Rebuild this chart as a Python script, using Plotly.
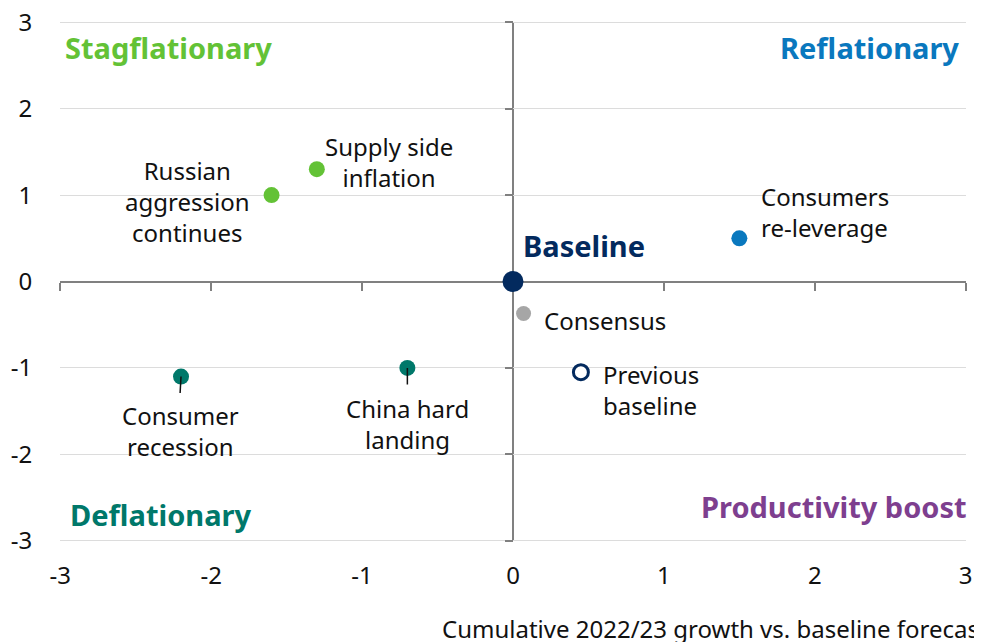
import plotly.graph_objects as go

# ---- data ----
scenarios = ["Russian<br>aggression<br>continues", "Supply side<br>inflation", "Consumers<br>re-leverage",
             "Consensus", "Previous<br>baseline", "Consumer<br>recession", "China hard<br>landing"]
growth = [-1.6, -1.3, 1.5, 0.07, 0.45, -2.2, -0.7]
inflation = [1.0, 1.3, 0.5, -0.37, -1.05, -1.1, -1.0]
baseline_x = [0]
baseline_y = [0]
tick_vals = [-3, -2, -1, 0, 1, 2, 3]
tick_text = ["-3", "-2", "-1", "0", "1", "2", "3"]
quadrants = ["Stagflationary", "Reflationary", "Deflationary", "Productivity boost"]
x_title = "Cumulative 2022/23 growth vs. baseline forecast"

# ---- styles ----
FONT = "Noto Sans"
GREEN = "#63c236"
BLUE = "#0a78be"
TEAL = "#00786a"
PURPLE = "#7e3f8f"
NAVY = "#032a5e"
GREY = "#a6a6a6"
AXIS = "#808080"
TXT = "#111111"
XRNG = [-3.002, 3.002]
YRNG = [-3.015, 3.015]

colors = [GREEN, GREEN, BLUE, GREY, "white", TEAL, TEAL]
line_colors = [GREEN, GREEN, BLUE, GREY, NAVY, TEAL, TEAL]
line_widths = [0, 0, 0, 0, 3, 0, 0]
sizes = [16, 16, 16, 15, 15, 16, 16]

# label offsets (pixels) and anchors per scenario
label_cfg = [
    dict(xshift=-84, yshift=-6, xanchor="center", align="center"),
    dict(xshift=72, yshift=7, xanchor="center", align="center"),
    dict(xshift=20, yshift=26, xanchor="left", align="left"),
    dict(xshift=18, yshift=-7, xanchor="left", align="left"),
    dict(xshift=20, yshift=-18, xanchor="left", align="left"),
    dict(xshift=-1, yshift=-54, xanchor="center", align="center"),
    dict(xshift=0, yshift=-56, xanchor="center", align="center"),
]
leaders = {5: -1, 6: 0}  # scenarios with a short leader line below the point

fig = go.Figure()

# invisible trace so the labelled base axes (x / y) are drawn
fig.add_trace(go.Scatter(
    x=baseline_x, y=baseline_y, mode="markers", marker=dict(opacity=0),
    showlegend=False, hoverinfo="skip"))

fig.add_trace(go.Scatter(
    x=growth, y=inflation, mode="markers", xaxis="x2", yaxis="y2",
    marker=dict(size=sizes, color=colors, opacity=1,
                line=dict(color=line_colors, width=line_widths)),
    showlegend=False, hoverinfo="skip"))

fig.add_trace(go.Scatter(
    x=baseline_x, y=baseline_y, mode="markers", xaxis="x2", yaxis="y2",
    marker=dict(size=21, color=NAVY, opacity=1), showlegend=False, hoverinfo="skip"))

annotations = []
for i, name in enumerate(scenarios):
    c = label_cfg[i]
    annotations.append(dict(x=growth[i], y=inflation[i], xref="x2", yref="y2", text=name,
                            showarrow=False, xshift=c["xshift"], yshift=c["yshift"],
                            xanchor=c["xanchor"], yanchor="middle", align=c["align"],
                            font=dict(family=FONT, size=24, color=TXT)))
    if i in leaders:
        annotations.append(dict(x=growth[i], y=inflation[i], xref="x2", yref="y2", text="",
                                showarrow=True, arrowhead=0, arrowwidth=1.5, arrowcolor=TXT,
                                ax=leaders[i], ay=18, standoff=0, startstandoff=0))

annotations.append(dict(x=baseline_x[0], y=baseline_y[0], xref="x2", yref="y2", text="<b>Baseline</b>",
                        showarrow=False, xshift=8, yshift=36, xanchor="left", yanchor="middle",
                        font=dict(family=FONT, size=29, color=NAVY)))

quad_pos = [
    dict(x=0.003, y=0.95, xanchor="left", color=GREEN),
    dict(x=0.995, y=0.95, xanchor="right", color=BLUE),
    dict(x=0.009, y=0.053, xanchor="left", color=TEAL),
    dict(x=1.003, y=0.068, xanchor="right", color=PURPLE),
]
for q, p in zip(quadrants, quad_pos):
    annotations.append(dict(x=p["x"], y=p["y"], xref="paper", yref="paper", text="<b>" + q + "</b>",
                            showarrow=False, xanchor=p["xanchor"], yanchor="middle",
                            font=dict(family=FONT, size=29, color=p["color"])))

annotations.append(dict(x=0.419, y=-0.166, xref="paper", yref="paper", text=x_title,
                        showarrow=False, xanchor="left", yanchor="middle",
                        font=dict(family=FONT, size=24, color=TXT)))

fig.update_layout(
    width=974, height=634,
    margin=dict(l=52, r=16, t=13, b=100),
    paper_bgcolor="white", plot_bgcolor="white",
    font=dict(family=FONT, size=24, color=TXT),
    xaxis=dict(range=XRNG, tickvals=tick_vals, ticktext=tick_text, showgrid=False, zeroline=False,
               showline=False, ticks="outside", ticklen=12, tickcolor="rgba(0,0,0,0)",
               automargin=False, ticklabeloverflow="allow", fixedrange=True),
    yaxis=dict(range=YRNG, tickvals=tick_vals, ticktext=tick_text, showgrid=True, gridcolor="#dcdcdc",
               gridwidth=1, zeroline=False, showline=False, ticks="outside", ticklen=22,
               tickcolor="rgba(0,0,0,0)", automargin=False, ticklabeloverflow="allow",
               fixedrange=True),
    xaxis2=dict(range=XRNG, tickvals=tick_vals, overlaying="x", anchor="free", position=0.5,
                showgrid=False, zeroline=False, showline=True, linecolor=AXIS, linewidth=2,
                ticks="outside", ticklen=8, tickwidth=2, tickcolor=AXIS, showticklabels=False,
                layer="below traces", automargin=False, fixedrange=True),
    yaxis2=dict(range=YRNG, tickvals=tick_vals, overlaying="y", anchor="free", position=0.5,
                side="left", showgrid=False, zeroline=False, showline=False,
                ticks="outside", ticklen=8, tickwidth=2, tickcolor=AXIS, showticklabels=False,
                layer="below traces", automargin=False, fixedrange=True),
    shapes=[dict(type="line", xref="x2", yref="y2", x0=0, x1=0, y0=tick_vals[0], y1=tick_vals[-1],
                 line=dict(color=AXIS, width=2), layer="below")],
    annotations=annotations,
)

fig.write_html("out.html")
